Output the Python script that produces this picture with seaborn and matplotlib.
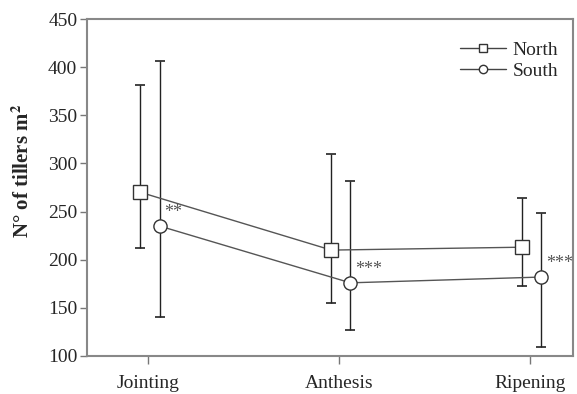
import matplotlib
matplotlib.use("Agg")
import matplotlib.pyplot as plt
import seaborn as sns
import numpy as np
import pandas as pd
from matplotlib.lines import Line2D

stages = ["Jointing", "Anthesis", "Ripening"]
north_mean = [270, 210, 213]
north_low = [212, 155, 173]
north_high = [381, 310, 264]
south_mean = [235, 176, 182]
south_low = [141, 127, 109]
south_high = [406, 282, 249]
signif = ["**", "***", "***"]

sns.set_theme(style="white")
plt.rcParams["font.family"] = ["Liberation Serif", "DejaVu Serif"]
plt.rcParams["mathtext.fontset"] = "stix"

fig = plt.figure(figsize=(5.77, 3.94), dpi=100)
ax = fig.add_axes([87/577, 1-356/394, (573-87)/577, (356-19)/394])

idx = np.arange(len(stages))
offs = {"North": -0.04, "South": 0.06}
rows = []
for s, m in (("North", north_mean), ("South", south_mean)):
    for i, v in enumerate(m):
        rows.append({"x": idx[i] + offs[s], "y": v, "site": s})
df = pd.DataFrame(rows)

for s, m, lo, hi in (("North", north_mean, north_low, north_high),
                     ("South", south_mean, south_low, south_high)):
    m = np.array(m); lo = np.array(lo); hi = np.array(hi)
    ax.errorbar(idx + offs[s], m, yerr=[m - lo, hi - m], fmt="none",
                ecolor="#222222", elinewidth=1.0, capsize=3.5, capthick=1.2, zorder=2)

sns.lineplot(data=df, x="x", y="y", hue="site", style="site",
             markers={"North": "s", "South": "o"}, dashes=False,
             palette={"North": "#555555", "South": "#555555"},
             markersize=9.5, markerfacecolor="white", markeredgecolor="#333333",
             markeredgewidth=1.0, linewidth=1.0, ax=ax, zorder=3, legend=False)

for i, t in enumerate(signif):
    ax.text(idx[i] + offs["South"] + 0.025, south_mean[i] + 14, t,
            fontsize=13, color="#555555", ha="left", va="center")

handles = [Line2D([], [], color="#444444", lw=1, marker="s", markersize=6,
                  markerfacecolor="white", markeredgecolor="#333333"),
           Line2D([], [], color="#444444", lw=1, marker="o", markersize=6,
                  markerfacecolor="white", markeredgecolor="#333333")]
ax.legend(handles, ["North", "South"], loc="upper right", frameon=False,
          fontsize=14, handlelength=2.4, handletextpad=0.3, labelspacing=0.15,
          bbox_to_anchor=(1.005, 0.985))

ax.set_xlim(-0.32, 2.226)
ax.set_ylim(100, 450)
ax.set_xticks(idx)
ax.set_xticklabels(stages)
ax.set_yticks(np.arange(100, 451, 50))
ax.set_xlabel("")
ax.set_ylabel("N° of tillers m$^{\\mathbf{2}}$", fontsize=15, fontweight="bold")
ax.yaxis.set_label_coords(-0.11, 0.55)
ax.tick_params(axis="both", which="both", direction="out", length=5, width=1,
               color="#777777", labelsize=14, left=True, bottom=True, pad=2)
ax.tick_params(axis="x", length=6, pad=8)
for sp in ax.spines.values():
    sp.set_color("#888888")
    sp.set_linewidth(1.5)

fig.savefig("out.png", dpi=100)
